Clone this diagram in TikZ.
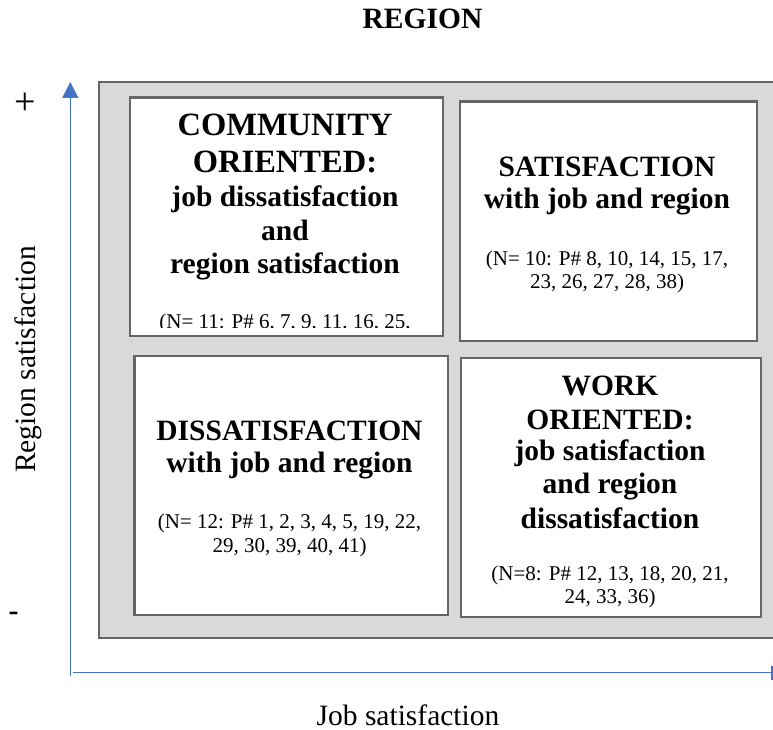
\documentclass[tikz,border=0pt]{standalone}
\usepackage{fontspec}
\setmainfont{Liberation Serif}
\usetikzlibrary{arrows.meta}
\definecolor{axisblue}{HTML}{4472C4}
\definecolor{panelgray}{HTML}{D9D9D9}
\definecolor{edgegray}{HTML}{666666}

\begin{document}
\begin{tikzpicture}[x=1pt,y=-1pt,
  headline/.style={font=\fontsize{29.5}{33}\selectfont\bfseries, inner sep=0pt, anchor=base},
  bigheadline/.style={font=\fontsize{32.5}{36}\selectfont\bfseries, inner sep=0pt, anchor=base},
  countline/.style={font=\fontsize{21}{24}\selectfont, inner sep=0pt, anchor=base},
  axistext/.style={font=\fontsize{29.5}{33}\selectfont, inner sep=0pt, anchor=base},
  quadbox/.style={draw=edgegray, line width=2.7pt, fill=white, inner sep=0pt, anchor=north west},
  axisline/.style={draw=axisblue, line width=1.4pt},
]
\clip (0,0) rectangle (773,730);

% title
\node[headline] (title) at (422.5,29) {REGION};

% grey panel behind the four quadrants
\draw[draw=edgegray, line width=2pt, fill=panelgray] (98.5,82) rectangle (800,638);

% quadrants
\node[quadbox, minimum width=313, minimum height=238] (tl) at (128.5,96.5) {};
\node[quadbox, minimum width=297, minimum height=239.5] (tr) at (458.5,100) {};
\node[quadbox, minimum width=313.5, minimum height=259] (bl) at (133,354.5) {};
\node[quadbox, minimum width=300, minimum height=259] (br) at (459.5,356.5) {};

% community oriented
\node[bigheadline] (tl1) at (285,136) {COMMUNITY};
\node[bigheadline] (tl2) at (285,173) {ORIENTED:};
\node[headline] (tl3) at (285,207) {job dissatisfaction};
\node[headline] (tl4) at (285,240) {and};
\node[headline] (tl5) at (285,273) {region satisfaction};
\begin{scope}
  \clip (130,300) rectangle (440,327.5);
  \node[countline] (tl6) at (285,328.5) {(N= 11: P\# 6, 7, 9, 11, 16, 25,};
\end{scope}

% satisfaction
\node[headline] (tr1) at (607,177) {SATISFACTION};
\node[headline] (tr2) at (607,208) {with job and region};
\node[countline] (tr3) at (607,265) {(N= 10: P\# 8, 10, 14, 15, 17,};
\node[countline] (tr4) at (607,288) {23, 26, 27, 28, 38)};

% dissatisfaction
\node[headline] (bl1) at (289.5,440) {DISSATISFACTION};
\node[headline] (bl2) at (289.5,472) {with job and region};
\node[countline] (bl3) at (289.5,528) {(N= 12: P\# 1, 2, 3, 4, 5, 19, 22,};
\node[countline] (bl4) at (289.5,552) {29, 30, 39, 40, 41)};

% work oriented
\node[headline] (br1) at (610,395) {WORK};
\node[headline] (br2) at (610,429) {ORIENTED:};
\node[headline] (br3) at (610,460) {job satisfaction};
\node[headline] (br4) at (610,493) {and region};
\node[headline] (br5) at (610,528) {dissatisfaction};
\node[countline] (br6) at (610,580) {(N=8: P\# 12, 13, 18, 20, 21,};
\node[countline] (br7) at (610,603) {24, 33, 36)};

% axes
\coordinate (origin) at (70.3,676);
\coordinate (ytop) at (70.3,82);
\coordinate (xstart) at (73,672.5);
\coordinate (xend) at (772.5,672.5);
\draw[axisline, -{Triangle[width=16pt,length=16pt]}] (origin) -- (ytop);
\draw[axisline, -{Bar[width=14pt]}] (xstart) -- (xend);

% axis labels and signs
\node[axistext] (xlabel) at (408,725) {Job satisfaction};
\node[axistext, rotate=90] (ylabel) at (35,359.5) {Region satisfaction};
\node[font=\fontsize{38}{40}\selectfont, inner sep=0pt] (plus) at (25,104) {+};
\node[font=\fontsize{30}{33}\selectfont\bfseries, inner sep=0pt] (minus) at (13.5,616) {-};
\end{tikzpicture}
\end{document}
